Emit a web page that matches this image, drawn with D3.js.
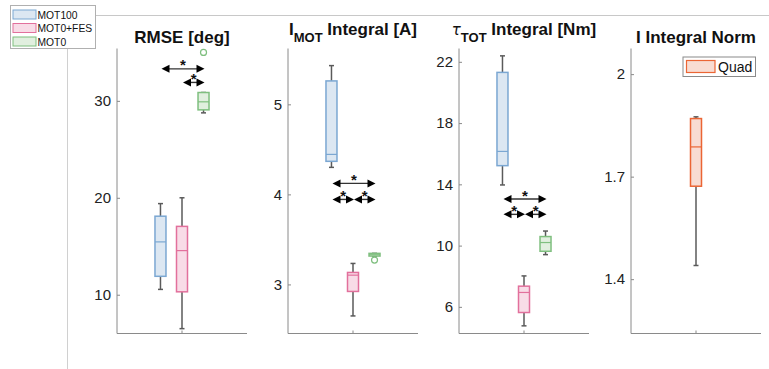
<!DOCTYPE html>
<html>
<head>
<meta charset="utf-8">
<script src="https://cdn.jsdelivr.net/npm/d3@7"></script>
<style>
  body { margin: 0; background: #fff; }
  svg { display: block; font-family: "Liberation Sans", Arial, Helvetica, sans-serif; }
</style>
</head>
<body>
<div class="container"></div>
<script>
// groups shared by the first three panels
const groups = ["MOT100", "MOT0+FES", "MOT0"];
const groupColors = ["#7ba7d2", "#e2709c", "#7fbf7f"];
const groupFills = ["#dce7f2", "#f8dce7", "#e1efdf"];

// box stats: [whisker low, q1, median, q3, whisker high]
const rmseBoxes = [
  [10.55, 11.9, 15.45, 18.1, 19.4],
  [6.5, 10.3, 14.55, 17.05, 20.0],
  [28.76, 29.07, 29.9, 30.86, 30.86],
];
const rmseOutliers = [[], [], [35]];
const rmseTicks = [10, 20, 30];
const rmseDomain = [6, 35.4];
const rmseSig = [
  { from: 0, to: 2, y: 33.3 },
  { from: 1, to: 2, y: 31.9 },
];

const imotBoxes = [
  [4.3, 4.367, 4.444, 5.26, 5.43],
  [2.65, 2.922, 3.103, 3.133, 3.233],
  [3.315, 3.315, 3.33, 3.345, 3.345],
];
const imotOutliers = [[], [], [3.27]];
const imotTicks = [3, 4, 5];
const imotDomain = [2.455, 5.62];
const imotSig = [
  { from: 0, to: 2, y: 4.122 },
  { from: 0, to: 1, y: 3.944 },
  { from: 1, to: 2, y: 3.944 },
];

const tauBoxes = [
  [13.96, 15.22, 16.15, 21.31, 22.39],
  [4.76, 5.63, 6.94, 7.35, 8.02],
  [9.41, 9.63, 10.2, 10.59, 10.95],
];
const tauOutliers = [[], [], []];
const tauTicks = [6, 10, 14, 18, 22];
const tauDomain = [4.26, 22.87];
const tauSig = [
  { from: 0, to: 2, y: 13.04 },
  { from: 0, to: 1, y: 12.04 },
  { from: 1, to: 2, y: 12.04 },
];

const normGroups = ["Quad"];
const normBoxes = [[1.44, 1.672, 1.787, 1.87, 1.875]];
const normOutliers = [[]];
const normTicks = [1.4, 1.7, 2];
const normDomain = [1.241, 2.075];

const width = 769;
const height = 369;
const yTop = 48.5;
const yBottom = 333.5;
const panelWidth = 130;
const lefts = [117, 288, 459, 631];

const svg = d3
  .select(".container")
  .append("svg")
  .attr("width", width)
  .attr("height", height);

const panels = [
  { title: [{ t: "RMSE [deg]" }], boxes: rmseBoxes, outliers: rmseOutliers, ticks: rmseTicks, domain: rmseDomain, sig: rmseSig, groups: groups, colors: groupColors, fills: groupFills, titleY: 42.5 },
  { title: [{ t: "I" }, { t: "MOT", sub: true }, { t: " Integral [A]" }], boxes: imotBoxes, outliers: imotOutliers, ticks: imotTicks, domain: imotDomain, sig: imotSig, groups: groups, colors: groupColors, fills: groupFills, titleY: 35 },
  { title: [{ t: "τ", greek: true }, { t: "TOT", sub: true }, { t: " Integral [Nm]" }], boxes: tauBoxes, outliers: tauOutliers, ticks: tauTicks, domain: tauDomain, sig: tauSig, groups: groups, colors: groupColors, fills: groupFills, titleY: 35 },
  { title: [{ t: "I Integral Norm" }], boxes: normBoxes, outliers: normOutliers, ticks: normTicks, domain: normDomain, sig: [], groups: normGroups, colors: ["#eb6534"], fills: ["#f8dcd2"], titleY: 42.5 },
];

// outer frame pieces
svg.append("line").attr("x1", 96).attr("x2", width).attr("y1", 15.5).attr("y2", 15.5)
  .attr("stroke", "#c8c8c8").attr("stroke-width", 1);
svg.append("line").attr("x1", 67.5).attr("x2", 67.5).attr("y1", 49).attr("y2", height)
  .attr("stroke", "#d0d0d0").attr("stroke-width", 1);

const boxW = 11;
const capW = 5;

panels.forEach((p, pi) => {
  const left = lefts[pi];
  const right = left + panelWidth;
  const y = d3.scaleLinear().domain(p.domain).range([yBottom, yTop]);
  const x = d3.scalePoint().domain(p.groups).range([left, right]).padding(p.groups.length > 1 ? 2.02 : 0.5);
  const center = (left + right) / 2;

  const g = svg.append("g");

  // axes
  const yAxis = d3.axisLeft(y).tickValues(p.ticks).tickSize(-3).tickPadding(6)
    .tickFormat(d3.format("~g"));
  const ya = g.append("g").attr("transform", `translate(${left},0)`).call(yAxis);
  ya.select(".domain").attr("stroke", "#8a8a8a").attr("d", `M0,${yTop}V${yBottom}`);
  ya.selectAll(".tick line").attr("stroke", "#8a8a8a");
  ya.selectAll(".tick text").attr("fill", "#222").style("font-size", "15px")
    .style("font-family", "'Liberation Sans', Arial, sans-serif");

  g.append("line").attr("x1", left).attr("x2", right).attr("y1", yBottom).attr("y2", yBottom)
    .attr("stroke", "#8a8a8a");
  g.append("line").attr("x1", center).attr("x2", center).attr("y1", yBottom).attr("y2", yBottom - 3)
    .attr("stroke", "#8a8a8a");

  // title
  const title = g.append("text").attr("x", center).attr("y", p.titleY)
    .attr("text-anchor", "middle").attr("font-weight", "bold").attr("font-size", 17).attr("fill", "#111");
  let shifted = false;
  p.title.forEach((part) => {
    const ts = title.append("tspan").text(part.t);
    if (part.sub) {
      ts.attr("font-size", 13).attr("dy", 7);
      shifted = true;
    } else if (shifted) {
      ts.attr("dy", -7);
      shifted = false;
    }
    if (part.greek) ts.attr("font-style", "italic").attr("font-weight", "normal")
      .attr("font-family", "'DejaVu Sans', sans-serif").attr("font-size", 15);
  });

  // boxes
  p.boxes.forEach((b, i) => {
    const cx = x(p.groups[i]);
    const col = p.colors[i];
    // whiskers
    g.append("line").attr("x1", cx).attr("x2", cx).attr("y1", y(b[0])).attr("y2", y(b[1]))
      .attr("stroke", "#5a5a5a").attr("stroke-width", 1.5);
    g.append("line").attr("x1", cx).attr("x2", cx).attr("y1", y(b[3])).attr("y2", y(b[4]))
      .attr("stroke", "#5a5a5a").attr("stroke-width", 1.5);
    [b[0], b[4]].forEach((v) => {
      g.append("line").attr("x1", cx - capW / 2).attr("x2", cx + capW / 2).attr("y1", y(v)).attr("y2", y(v))
        .attr("stroke", "#5a5a5a").attr("stroke-width", 1.5);
    });
    g.append("rect").attr("x", cx - boxW / 2).attr("width", boxW)
      .attr("y", y(b[3])).attr("height", Math.max(y(b[1]) - y(b[3]), 1))
      .attr("fill", p.fills[i]).attr("stroke", col).attr("stroke-width", 1.5);
    g.append("line").attr("x1", cx - boxW / 2).attr("x2", cx + boxW / 2).attr("y1", y(b[2])).attr("y2", y(b[2]))
      .attr("stroke", col).attr("stroke-width", 1.2);
    p.outliers[i].forEach((o) => {
      g.append("circle").attr("cx", cx).attr("cy", y(o)).attr("r", 3)
        .attr("fill", "none").attr("stroke", col).attr("stroke-width", 1.2);
    });
  });

  // significance arrows
  p.sig.forEach((s) => {
    const x1 = x(p.groups[s.from]) + 1;
    const x2 = x(p.groups[s.to]) + 1;
    const yy = y(s.y);
    g.append("line").attr("x1", x1 + 4).attr("x2", x2 - 4).attr("y1", yy).attr("y2", yy)
      .attr("stroke", "#333").attr("stroke-width", 1.4);
    g.append("path").attr("d", `M${x1},${yy}L${x1 + 8},${yy - 4}L${x1 + 8},${yy + 4}Z`).attr("fill", "#000");
    g.append("path").attr("d", `M${x2},${yy}L${x2 - 8},${yy - 4}L${x2 - 8},${yy + 4}Z`).attr("fill", "#000");
    g.append("text").attr("x", (x1 + x2) / 2).attr("y", yy + 1.5).attr("text-anchor", "middle")
      .attr("font-size", 15).attr("font-weight", "bold").attr("fill", "#111").text("*");
  });
});

// group legend, top left
const legend = svg.append("g");
legend.append("rect").attr("x", 10.5).attr("y", 5.5).attr("width", 85).attr("height", 43)
  .attr("fill", "#fff").attr("stroke", "#b0b0b0");
groups.forEach((name, i) => {
  const ly = 10 + i * 13.5;
  legend.append("rect").attr("x", 13).attr("y", ly).attr("width", 23).attr("height", 9)
    .attr("fill", groupFills[i]).attr("stroke", groupColors[i]);
  legend.append("text").attr("x", 37.5).attr("y", ly + 8.5).attr("font-size", 10.3).attr("fill", "#111").text(name);
});

// Quad legend in last panel
const ql = svg.append("g");
ql.append("rect").attr("x", 683).attr("y", 57).attr("width", 72.5).attr("height", 19.5)
  .attr("fill", "#fff").attr("stroke", "#8a8a8a");
ql.append("rect").attr("x", 686.5).attr("y", 60.5).attr("width", 28.5).attr("height", 12)
  .attr("fill", panels[3].fills[0]).attr("stroke", panels[3].colors[0]).attr("stroke-width", 1.2);
ql.append("text").attr("x", 718).attr("y", 71.5).attr("font-size", 14).attr("fill", "#111").text(normGroups[0]);
</script>
</body>
</html>
